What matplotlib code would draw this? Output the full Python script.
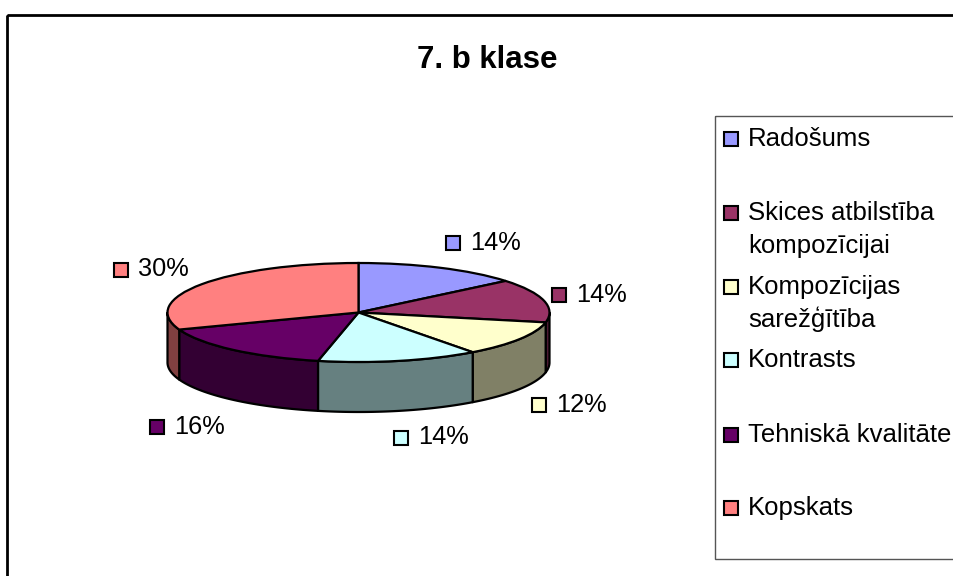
import numpy as np
import matplotlib
matplotlib.use("Agg")
import matplotlib.pyplot as plt
from matplotlib.patches import Rectangle, Polygon
from matplotlib.colors import to_rgb

plt.rcParams['font.family'] = ['Liberation Sans', 'DejaVu Sans']

title = "7. b klase"
categories = ["Radošums", "Skices atbilstība\nkompozīcijai", "Kompozīcijas\nsarežģītība",
              "Kontrasts", "Tehniskā kvalitāte", "Kopskats"]
shares = [14.0, 14.2, 11.6, 13.6, 16.0, 30.6]
share_labels = ["14%", "14%", "12%", "14%", "16%", "30%"]
colors = ["#9999FF", "#993366", "#FFFFCC", "#CCFFFF", "#660066", "#FF8080"]

W, H = 954, 576
CX, CY, RX, RY, DEPTH = 358.5, 312.5, 191.0, 49.5, 50.0
EDGE = 1.6

fig = plt.figure(figsize=(W / 100, H / 100), dpi=100, facecolor="white")

# Pie axes: one data unit = the ellipse's radius in each direction
ax = fig.add_axes([0, 0, 1, 1], facecolor="none")
ax.pie(shares, colors=colors, startangle=90, counterclock=False, radius=1,
       wedgeprops=dict(edgecolor="black", linewidth=EDGE, zorder=3))
ax.set_aspect("auto")
ax.set_xlim(-CX / RX, (W - CX) / RX)
ax.set_ylim((CY - H) / RY, CY / RY)
ax.axis("off")

# Side walls: the part of each slice's rim on the near half of the ellipse
depth_units = DEPTH / RY
edges = np.cumsum([0] + shares) / sum(shares) * 2 * np.pi
for a0, a1, col in zip(edges[:-1], edges[1:], colors):
    lo, hi = max(a0, np.pi / 2), min(a1, 3 * np.pi / 2)
    if hi <= lo:
        continue
    t = np.linspace(lo, hi, 60)
    x, y = np.sin(t), np.cos(t)
    pts = np.r_[np.c_[x, y], np.c_[x, y - depth_units][::-1]]
    shade = tuple(c * 0.5 for c in to_rgb(col))
    ax.add_patch(Polygon(pts, closed=True, facecolor=shade, edgecolor="black",
                         linewidth=EDGE, joinstyle="round", zorder=2))

# Overlay in pixel coordinates for frame, title, labels and legend
ov = fig.add_axes([0, 0, 1, 1], facecolor="none")
ov.set_xlim(0, W)
ov.set_ylim(H, 0)
ov.axis("off")

ov.add_patch(Rectangle((7, 14.5), W + 50, H + 50, fill=False, edgecolor="black", linewidth=2.0))
ov.text(487, 67.5, title, ha="center", va="baseline", fontsize=22.5, fontweight="bold")

# Legend box
ov.add_patch(Rectangle((715, 115.5), W, 559 - 115.5, fill=False, edgecolor="#555555", linewidth=1.0))
legend_swatch_top = [132, 205.5, 280, 353, 427.5, 501]
legend_baselines = [146, 220, 294, 367, 442, 515]
LINE = 32.5
for cat, col, st, bl in zip(categories, colors, legend_swatch_top, legend_baselines):
    ov.add_patch(Rectangle((724.5, st), 14, 14, facecolor=col, edgecolor="black", linewidth=1.5))
    for i, part in enumerate(cat.split("\n")):
        ov.text(748, bl + i * LINE, part, ha="left", va="baseline", fontsize=18.5)

# Data labels with legend keys
label_swatch_xy = [(446.5, 236), (552.5, 288), (532.5, 397.5), (394.5, 430.5), (150.5, 419.5), (114.5, 262.5)]
for lab, col, (sx, sy) in zip(share_labels, colors, label_swatch_xy):
    ov.add_patch(Rectangle((sx, sy), 14, 14, facecolor=col, edgecolor="black", linewidth=1.5))
    ov.text(sx + 23.5, sy + 14, lab, ha="left", va="baseline", fontsize=18.3)

fig.savefig("out.png", dpi=100)
